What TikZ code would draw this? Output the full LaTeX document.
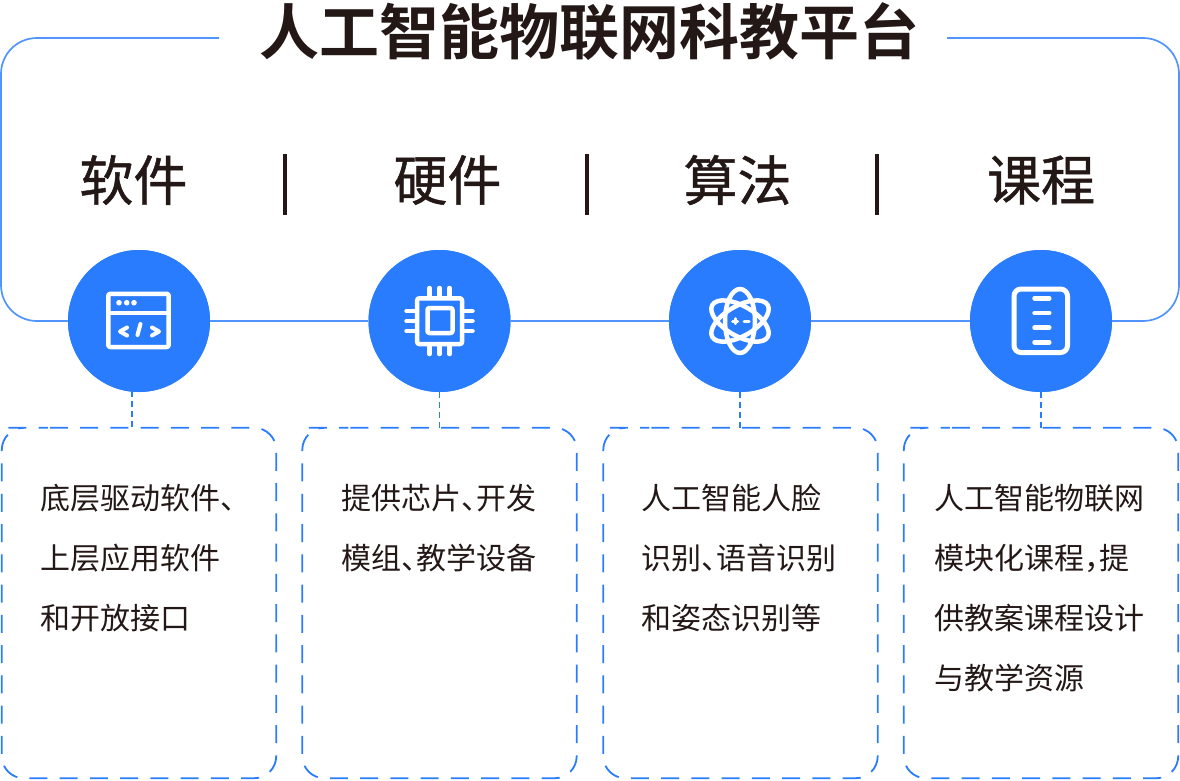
\documentclass[tikz,border=0pt]{standalone}
\usepackage{fontspec}
\usetikzlibrary{calc}
\setmainfont{Noto Sans CJK SC}
\newfontfamily\titlefont[BoldFont={Noto Sans CJK SC Bold}]{Noto Sans CJK SC}
\newfontfamily\headfont[FakeBold=0.9]{Noto Sans CJK SC}
\newfontfamily\bodyfont{Noto Sans CJK SC}
\newcommand{\narrowp}[1]{#1\kern-15pt\relax}
\definecolor{ink}{HTML}{231815}
\definecolor{blue}{HTML}{2A7CFF}
\definecolor{lineblue}{HTML}{4F94FF}
\tikzset{
  x=1pt,y=-1pt,
  titletext/.style={text=ink,font=\titlefont\bfseries\fontsize{60}{60}\selectfont,inner sep=0,anchor=center},
  headtext/.style={text=ink,font=\headfont\fontsize{54}{54}\selectfont,inner sep=0,anchor=center},
  bodytext/.style={text=ink,font=\bodyfont\fontsize{30}{30}\selectfont,inner sep=0,anchor=west},
  hub/.style={circle,fill=blue,draw=none,minimum size=142pt,inner sep=0},
  card/.style={rectangle,draw=none,minimum width=274pt,minimum height=350pt,inner sep=0},
  cardline/.style={draw=blue,line width=1.8pt,rounded corners=22pt,dash pattern=on 18pt off 12.255pt,dash phase=28.255pt},
  frameline/.style={draw=lineblue,line width=1.7pt},
  tie/.style={draw=blue,line width=1.4pt,dash pattern=on 6pt off 4pt},
  sepbar/.style={draw=ink,line width=4pt},
  icon/.style={draw=white,line width=4.5pt,line cap=round,line join=round},
}
\begin{document}
\begin{tikzpicture}
\useasboundingbox (0,0) rectangle (1180,780);
\coordinate (fl) at (219,38);
\coordinate (fr) at (947,38);
\node[hub] (h1) at (139,321) {};
\node[hub] (h2) at (439.5,321) {};
\node[hub] (h3) at (740,321) {};
\node[hub] (h4) at (1041,321) {};
\draw[frameline] (fl) -- (37,38) .. controls (17,38) and (1,54) .. (1,74) -- (1,285) .. controls (1,305) and (17,321) .. (37,321) -- (h1.west);
\draw[frameline] (fr) -- (1143,38) .. controls (1163,38) and (1179,54) .. (1179,74) -- (1179,285) .. controls (1179,305) and (1163,321) .. (1143,321) -- (h4.east);
\draw[frameline] (h1) -- (h2);
\draw[frameline] (h2) -- (h3);
\draw[frameline] (h3) -- (h4);
\node[hub] at (h1) {};
\node[hub] at (h2) {};
\node[hub] at (h3) {};
\node[hub] at (h4) {};
\node[titletext] (title) at (589.5,32) {人工智能物联网科教平台};
\node[headtext] (t1) at (133.5,180) {软件};
\node[headtext] (t2) at (447.5,180) {硬件};
\node[headtext] (t3) at (737.5,180) {算法};
\node[headtext] (t4) at (1041,180) {课程};
\coordinate (b1a) at (285,154); \coordinate (b1b) at (285,215);
\coordinate (b2a) at (587,154); \coordinate (b2b) at (587,215);
\coordinate (b3a) at (877,154); \coordinate (b3b) at (877,215);
\draw[sepbar] (b1a) -- (b1b);
\draw[sepbar] (b2a) -- (b2b);
\draw[sepbar] (b3a) -- (b3b);
\node[card] (c1) at (139,603) {};
\node[card] (c2) at (439.5,603) {};
\node[card] (c3) at (740.5,603) {};
\node[card] (c4) at (1041,603) {};
\foreach \n in {c1,c2,c3,c4}{
  \draw[cardline] ($(\n.north west)+(24,0)$) -- (\n.north east) -- (\n.south east) -- (\n.south west) -- (\n.north west) -- cycle;
}
\coordinate (k1) at (132,391);
\draw[tie] (k1) -- (k1 |- c1.north);
\draw[tie] (h2.south) -- (h2.south |- c2.north);
\draw[tie] (h3.south) -- (h3.south |- c3.north);
\draw[tie] (h4.south) -- (h4.south |- c4.north);
\node[bodytext] (a1) at (40,498) {底层驱动软件\narrowp{、}};
\node[bodytext] (a2) at (40,558) {上层应用软件};
\node[bodytext] (a3) at (40,618) {和开放接口};
\node[bodytext] (b1) at (341,498) {提供芯片\narrowp{、}开发};
\node[bodytext] (b2) at (341,558) {模组\narrowp{、}教学设备};
\node[bodytext] (d1) at (641,498) {人工智能人脸};
\node[bodytext] (d2) at (641,558) {识别\narrowp{、}语音识别};
\node[bodytext] (d3) at (641,618) {和姿态识别等};
\node[bodytext] (e1) at (934,498) {人工智能物联网};
\node[bodytext] (e2) at (934,558) {模块化课程\narrowp{，}提};
\node[bodytext] (e3) at (934,618) {供教案课程设计};
\node[bodytext] (e4) at (934,678) {与教学资源};
% icon 1
\draw[icon,rounded corners=2pt] (108.3,293.8) rectangle (168.7,347);
\draw[icon,line width=4pt] (108.3,312.7) -- (168.7,312.7);
\fill[white] (119,302.7) circle (2.8) (126.7,302.7) circle (2.8) (134,302.7) circle (2.8);
\draw[icon,line width=4pt] (127,327.5) -- (120,331.5) -- (127,335.5);
\draw[icon,line width=4pt] (152,327.5) -- (159,331.5) -- (152,335.5);
\draw[icon,line width=4pt] (140.5,324) -- (137.5,335);
% icon 2
\draw[icon,rounded corners=2pt] (417.2,298.3) rectangle (462,344);
\draw[icon,rounded corners=2pt] (427.5,308) rectangle (452.5,333);
\foreach \q in {429.5,439.5,449.5}{\draw[icon] (\q,288) -- (\q,298); \draw[icon] (\q,344) -- (\q,354);}
\foreach \q in {311,321,331}{\draw[icon] (406.5,\q) -- (417,\q); \draw[icon] (462,\q) -- (472.5,\q);}
% icon 3
\foreach \r in {90,30,-30}{\draw[icon,rotate around={\r:(740,321)}] (740,321) ellipse (32 and 15);}
\draw[icon,line width=3pt] (732.5,321) -- (737.5,321) (735,318.5) -- (735,323.5) (744,321) -- (749,321);
% icon 4
\draw[icon,line width=5pt,rounded corners=7pt] (1014,289) rectangle (1067.5,352.5);
\foreach \q in {298.3,313,327.7,342.3}{\draw[icon] (1034.5,\q) -- (1049.3,\q);}
\end{tikzpicture}
\end{document}
